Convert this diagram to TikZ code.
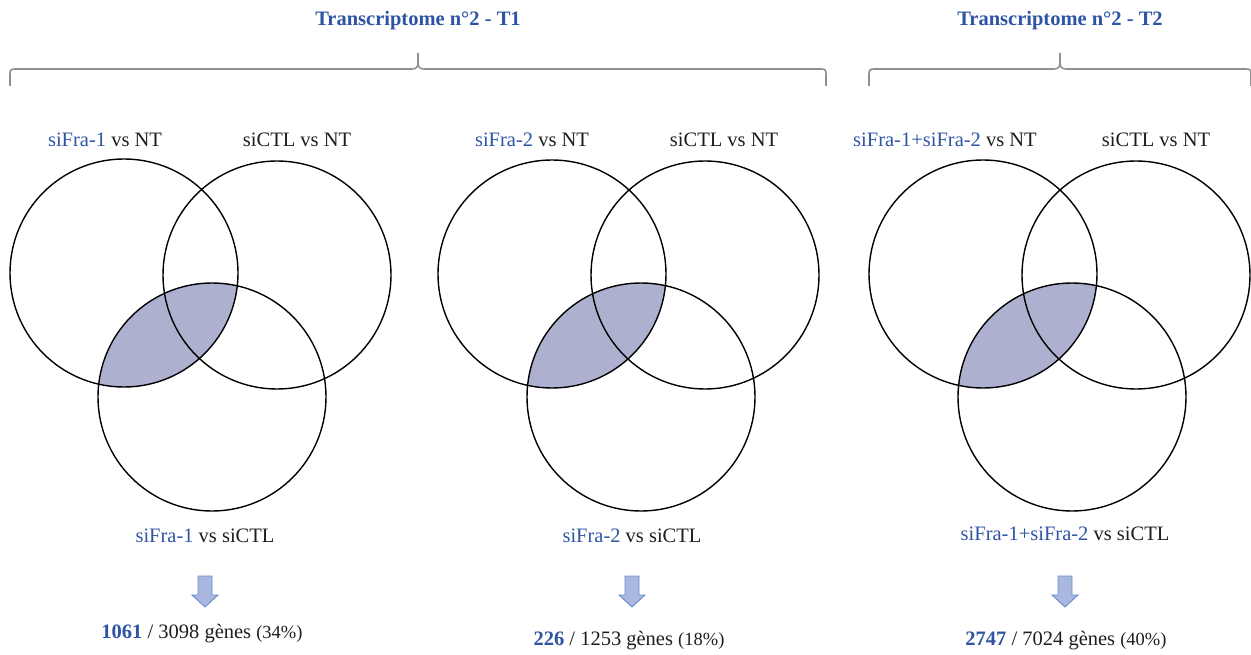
\documentclass[tikz,border=0pt]{standalone}
\usepackage{fontspec}
\setmainfont{Liberation Serif}
\definecolor{tblue}{RGB}{46,84,164}
\definecolor{lensfill}{RGB}{173,176,207}
\definecolor{bracegray}{RGB}{145,145,145}
\definecolor{arrfill}{RGB}{170,184,224}
\definecolor{arrdraw}{RGB}{105,140,200}
\definecolor{txt}{RGB}{30,30,30}
\begin{document}
\begin{tikzpicture}[x=1pt,y=-1pt,
  vcirc/.style={circle,draw=black,line width=1.4pt,minimum size=228pt,inner sep=0pt},
  lbl/.style={font=\fontsize{20.5}{24}\selectfont,text=txt,inner sep=0pt,anchor=center},
  ttl/.style={font=\fontsize{20.5}{24}\selectfont\bfseries,text=tblue,inner sep=0pt},
  bracestyle/.style={draw=bracegray,line width=1.6pt},
  blockarrow/.style={fill=arrfill,draw=arrdraw,line width=0.9pt,line join=miter}]
\useasboundingbox (0,0) rectangle (1251,655);

% ---------- titles and braces ----------
\node[ttl] (t1) at (418,21) {Transcriptome n°2 - T1};
\node[ttl] (t2) at (1060,21) {Transcriptome n°2 - T2};
\draw[bracestyle] (10,86) -- (10,74) .. controls (10,70) and (11,69) .. (15,69) -- (412,69) .. controls (416,69) and (418,67) .. (418,63) -- (418,53);
\draw[bracestyle] (418,63) .. controls (418,67) and (420,69) .. (424,69) -- (821,69) .. controls (825,69) and (826,70) .. (826,74) -- (826,86);
\draw[bracestyle] (869,86) -- (869,74) .. controls (869,70) and (870,69) .. (874,69) -- (1054,69) .. controls (1058,69) and (1060,67) .. (1060,63) -- (1060,53);
\draw[bracestyle] (1060,63) .. controls (1060,67) and (1062,69) .. (1066,69) -- (1246,69) .. controls (1250,69) and (1251,70) .. (1251,74) -- (1251,86);

% ---------- lenses ----------
\begin{scope}
  \clip (124,273) circle (114);
  \fill[lensfill] (212,397) circle (114);
\end{scope}
\begin{scope}
  \clip (552,274) circle (114);
  \fill[lensfill] (641,397) circle (114);
\end{scope}
\begin{scope}
  \clip (983,274) circle (114);
  \fill[lensfill] (1072,397) circle (114);
\end{scope}

% ---------- circles ----------
\node[vcirc] (a1) at (124,273) {};
\node[vcirc] (b1) at (277,275) {};
\node[vcirc] (c1) at (212,397) {};
\node[vcirc] (a2) at (552,274) {};
\node[vcirc] (b2) at (705,275) {};
\node[vcirc] (c2) at (641,397) {};
\node[vcirc] (a3) at (983,274) {};
\node[vcirc] (b3) at (1136,275) {};
\node[vcirc] (c3) at (1072,397) {};

% ---------- labels ----------
\node[lbl] (la1) at (105,140) {\textcolor{tblue}{siFra-1} vs NT};
\node[lbl] (lb1) at (297,140) {siCTL vs NT};
\node[lbl] (lc1) at (205,536) {\textcolor{tblue}{siFra-1} vs siCTL};
\node[lbl] (la2) at (532,140) {\textcolor{tblue}{siFra-2} vs NT};
\node[lbl] (lb2) at (724,140) {siCTL vs NT};
\node[lbl] (lc2) at (632,536) {\textcolor{tblue}{siFra-2} vs siCTL};
\node[lbl] (la3) at (945,140) {\textcolor{tblue}{siFra-1+siFra-2} vs NT};
\node[lbl] (lb3) at (1156,140) {siCTL vs NT};
\node[lbl] (lc3) at (1065,534) {\textcolor{tblue}{siFra-1+siFra-2} vs siCTL};

% ---------- block arrows ----------
\foreach \ax in {205,632,1065}{
  \draw[blockarrow,shift={(\ax,576)}] (-7,0) -- (7,0) -- (7,19) -- (13,19) -- (0,31) -- (-13,19) -- (-7,19) -- cycle;
}

% ---------- results ----------
\node[lbl] (r1) at (202,634) {\textcolor{tblue}{\bfseries 1061} / 3098 gènes {\fontsize{18.5}{20}\selectfont(34\%)}};
\node[lbl] (r2) at (629,641) {\textcolor{tblue}{\bfseries 226} / 1253 gènes {\fontsize{18.5}{20}\selectfont(18\%)}};
\node[lbl] (r3) at (1066,641) {\textcolor{tblue}{\bfseries 2747} / 7024 gènes {\fontsize{18.5}{20}\selectfont(40\%)}};
\end{tikzpicture}
\end{document}
